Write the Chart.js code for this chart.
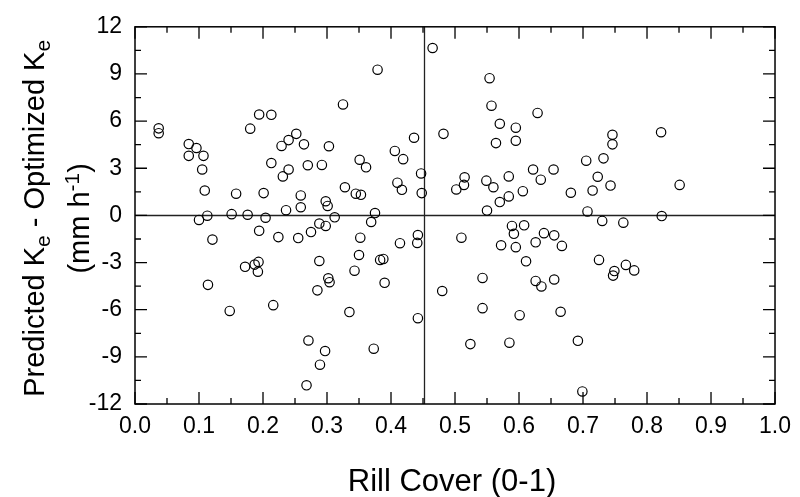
<!DOCTYPE html>
<html>
<head>
<meta charset="utf-8">
<script src="https://cdn.jsdelivr.net/npm/chart.js@4.4.0/dist/chart.umd.min.js"></script>
<style>
  html, body { margin: 0; padding: 0; background: #fff; }
  #wrap { width: 800px; height: 497px; }
</style>
</head>
<body>
<div id="wrap"><canvas id="chart" width="800" height="497"></canvas></div>
<script>
// rill cover (x) vs predicted - optimized Ke (y)
const rillCover = [
  0.037, 0.037, 0.084, 0.096, 0.084, 0.107, 0.105, 0.109, 0.100, 0.113,
  0.121, 0.151, 0.158, 0.176, 0.180, 0.194, 0.213, 0.194, 0.204, 0.201,
  0.213, 0.224, 0.229, 0.240, 0.252, 0.264, 0.231, 0.240, 0.270, 0.236,
  0.259, 0.259, 0.255, 0.275, 0.288, 0.298, 0.292, 0.303, 0.298, 0.301,
  0.312, 0.465, 0.379, 0.325, 0.554, 0.557, 0.570, 0.595, 0.595, 0.564,
  0.482, 0.436, 0.406, 0.419, 0.351, 0.361, 0.447, 0.410, 0.417, 0.448,
  0.328, 0.345, 0.353, 0.375, 0.369, 0.352, 0.414, 0.442, 0.441, 0.350,
  0.502, 0.515, 0.514, 0.510, 0.549, 0.560, 0.550, 0.570, 0.584, 0.584,
  0.606, 0.622, 0.629, 0.589, 0.608, 0.592, 0.572, 0.595, 0.626, 0.822,
  0.746, 0.746, 0.705, 0.732, 0.654, 0.634, 0.723, 0.743, 0.715, 0.681,
  0.851, 0.707, 0.730, 0.763, 0.823, 0.639, 0.655, 0.667, 0.172, 0.187,
  0.193, 0.192, 0.114, 0.148, 0.216, 0.288, 0.302, 0.304, 0.285, 0.271,
  0.297, 0.289, 0.268, 0.383, 0.388, 0.343, 0.390, 0.335, 0.442, 0.373,
  0.480, 0.543, 0.543, 0.524, 0.585, 0.601, 0.611, 0.626, 0.635, 0.655,
  0.665, 0.725, 0.749, 0.747, 0.767, 0.780, 0.692, 0.699
];
const keDiff = [
  5.54, 5.23, 4.54, 4.29, 3.79, 3.79, 2.92, 1.58, -0.29, -0.02,
  -1.54, 0.08, 1.38, 0.04, 5.52, 6.42, 6.40, -0.98, -0.15, 1.42,
  3.33, -1.38, 4.42, 4.79, 5.19, 4.52, 2.48, 2.92, 3.19, 0.33,
  1.27, 0.52, -1.44, -1.06, -0.52, -0.67, 3.21, 4.40, 0.90, 0.60,
  -0.12, 10.65, 9.27, 7.06, 8.73, 6.98, 5.83, 5.58, 4.75, 4.60,
  5.19, 4.94, 4.10, 3.58, 3.54, 3.06, 2.67, 2.08, 1.63, 1.42,
  1.79, 1.38, 1.31, 0.15, -0.42, -1.42, -1.77, -1.25, -1.75, -2.52,
  1.65, 2.42, 1.94, -1.42, 2.21, 1.79, 0.31, 0.85, 2.48, 1.21,
  1.54, 2.92, 6.52, -0.67, -0.63, -1.17, -1.90, -2.02, -1.71, 5.29,
  5.13, 4.52, 3.48, 3.63, 2.92, 2.27, 2.46, 1.90, 1.58, 1.44,
  1.94, 0.25, -0.35, -0.46, -0.04, -1.13, -1.27, -1.94, -3.27, -3.13,
  -2.96, -3.58, -4.42, -6.08, -5.71, -2.90, -4.00, -4.25, -4.77, -7.96,
  -8.63, -9.50, -10.81, -2.83, -2.77, -3.52, -4.29, -6.15, -6.54, -8.48,
  -4.81, -3.98, -5.90, -8.19, -8.10, -6.35, -2.92, -4.17, -4.52, -4.08,
  -6.13, -2.83, -3.54, -3.83, -3.15, -3.50, -7.98, -11.20
];
const xRange = [0, 1];
const yRange = [-12, 12];
const xStep = 0.1;
const yStep = 3;
const refX = 0.451;   // vertical reference line
const refY = 0;       // horizontal reference line

const FONT = '"Liberation Sans", Arial, sans-serif';

const points = rillCover.map((x, i) => ({x: x, y: keDiff[i]}));

// draws text pieces in a row, some of them shifted up/down (sub/superscripts)
function drawRich(ctx, parts, size) {
  var total = 0;
  parts.forEach(p => {
    ctx.font = (size * (p.scale || 1)) + 'px ' + FONT;
    p.w = ctx.measureText(p.text).width;
    total += p.w;
  });
  var cx = -total / 2;
  parts.forEach(p => {
    ctx.font = (size * (p.scale || 1)) + 'px ' + FONT;
    ctx.fillText(p.text, cx, (p.dy || 0) * size);
    cx += p.w;
  });
}

const framePlugin = {
  id: 'frame',
  beforeDatasetsDraw(chart) {
    const ctx = chart.ctx;
    const a = chart.chartArea;
    const xs = chart.scales.x;
    const ys = chart.scales.y;
    ctx.save();

    // reference lines
    ctx.strokeStyle = '#222';
    ctx.lineWidth = 1.3;
    ctx.beginPath();
    const py0 = Math.round(ys.getPixelForValue(refY)) + 0.5;
    ctx.moveTo(a.left, py0); ctx.lineTo(a.right, py0);
    const px0 = Math.round(xs.getPixelForValue(refX)) + 0.5;
    ctx.moveTo(px0, a.top); ctx.lineTo(px0, a.bottom);
    ctx.stroke();

    // box
    ctx.strokeStyle = '#000';
    ctx.lineWidth = 1.5;
    ctx.strokeRect(a.left, a.top, a.right - a.left, a.bottom - a.top);

    // inward ticks on all four sides, minor ones half way between majors
    ctx.lineWidth = 1.3;
    ctx.beginPath();
    const xt = xs.ticks.map(t => t.value);
    xt.forEach((v, i) => {
      const px = xs.getPixelForValue(v);
      ctx.moveTo(px, a.bottom); ctx.lineTo(px, a.bottom - 12);
      ctx.moveTo(px, a.top); ctx.lineTo(px, a.top + 12);
      if (i < xt.length - 1) {
        const pm = xs.getPixelForValue((v + xt[i + 1]) / 2);
        ctx.moveTo(pm, a.bottom); ctx.lineTo(pm, a.bottom - 6);
        ctx.moveTo(pm, a.top); ctx.lineTo(pm, a.top + 6);
      }
    });
    const yt = ys.ticks.map(t => t.value);
    yt.forEach((v, i) => {
      const py = ys.getPixelForValue(v);
      ctx.moveTo(a.left, py); ctx.lineTo(a.left + 12, py);
      ctx.moveTo(a.right, py); ctx.lineTo(a.right - 12, py);
      if (i < yt.length - 1) {
        const pm = ys.getPixelForValue((v + yt[i + 1]) / 2);
        ctx.moveTo(a.left, pm); ctx.lineTo(a.left + 6, pm);
        ctx.moveTo(a.right, pm); ctx.lineTo(a.right - 6, pm);
      }
    });
    ctx.stroke();
    ctx.restore();
  },
  afterDraw(chart) {
    const ctx = chart.ctx;
    const a = chart.chartArea;
    ctx.save();
    ctx.fillStyle = '#000';
    ctx.textBaseline = 'alphabetic';

    // x title
    ctx.font = '31px ' + FONT;
    ctx.textAlign = 'center';
    ctx.fillText('Rill Cover (0-1)', 452, 491);

    // y title, two lines, rotated
    const cy = (a.top + a.bottom) / 2 + 3;
    ctx.textAlign = 'left';
    ctx.save();
    ctx.translate(44, cy);
    ctx.rotate(-Math.PI / 2);
    drawRich(ctx, [
      {text: 'Predicted K'},
      {text: 'e', scale: 0.72, dy: 0.22},
      {text: ' - Optimized K'},
      {text: 'e', scale: 0.72, dy: 0.22}
    ], 29);
    ctx.restore();
    ctx.save();
    ctx.translate(89, cy);
    ctx.rotate(-Math.PI / 2);
    drawRich(ctx, [
      {text: '(mm h'},
      {text: '-1', scale: 0.72, dy: -0.36},
      {text: ')'}
    ], 29);
    ctx.restore();
    ctx.restore();
  }
};

new Chart(document.getElementById('chart'), {
  type: 'scatter',
  data: {
    datasets: [{
      data: points,
      pointRadius: 4.7,
      pointHoverRadius: 4.7,
      pointBorderWidth: 1.2,
      pointBorderColor: '#000',
      pointBackgroundColor: 'rgba(0,0,0,0)'
    }]
  },
  options: {
    responsive: false,
    animation: false,
    devicePixelRatio: 1,
    layout: { padding: { top: 20, right: 21, left: 0, bottom: 0 } },
    plugins: { legend: { display: false }, tooltip: { enabled: false } },
    scales: {
      x: {
        type: 'linear',
        min: xRange[0], max: xRange[1],
        grid: { display: false, drawTicks: false },
        border: { display: false },
        ticks: {
          stepSize: xStep,
          padding: 9,
          color: '#000',
          font: { family: FONT, size: 23 },
          callback: v => v.toFixed(1)
        },
        afterFit: s => { s.height = 93; }
      },
      y: {
        type: 'linear',
        min: yRange[0], max: yRange[1],
        grid: { display: false, drawTicks: false },
        border: { display: false },
        ticks: {
          stepSize: yStep,
          padding: 13,
          color: '#000',
          font: { family: FONT, size: 23 },
          callback: v => String(v)
        },
        afterFit: s => { s.width = 135; }
      }
    }
  },
  plugins: [framePlugin]
});
</script>
</body>
</html>
